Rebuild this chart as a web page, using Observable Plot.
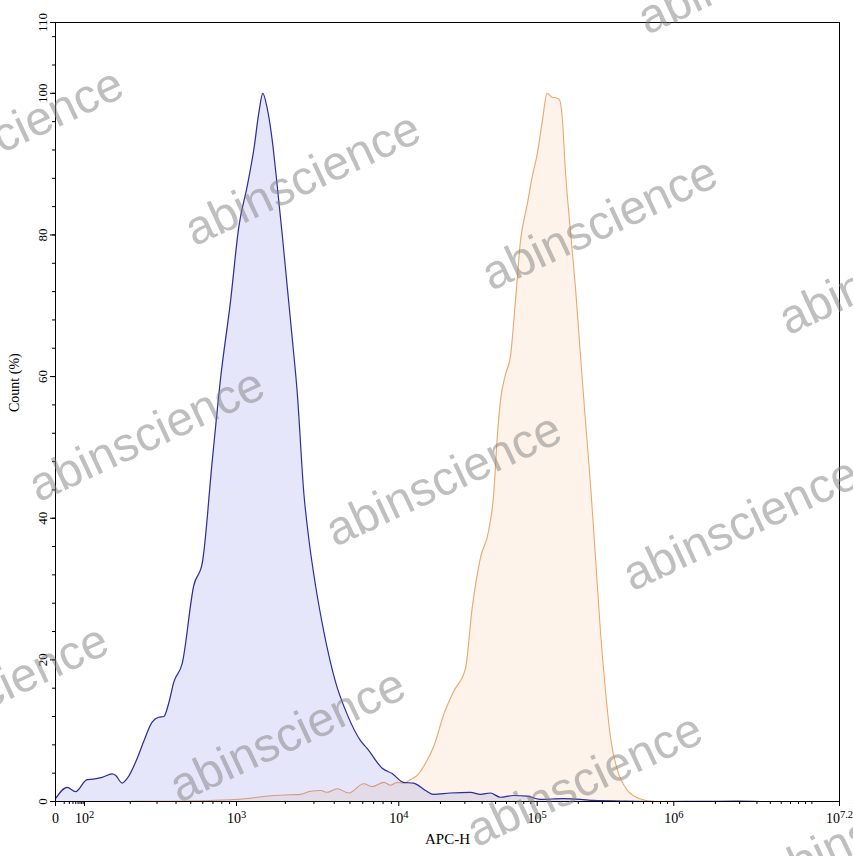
<!DOCTYPE html>
<html>
<head>
<meta charset="utf-8">
<script src="https://cdn.jsdelivr.net/npm/d3@7"></script>
<script src="https://cdn.jsdelivr.net/npm/@observablehq/plot@0.6"></script>
<style>
  html, body { margin: 0; padding: 0; background: #fff; overflow: hidden; }
  #chart { width: 853px; height: 856px; }
</style>
</head>
<body>
<div id="chart"></div>
<script>
// x is in display decades of APC-H (1 = the "0" position of the biexponential axis)
const xTicks = [1, 2, 3, 4, 5, 6, 7.2];
const xTickLabels = ["0", "10^2", "10^3", "10^4", "10^5", "10^6", "10^7.2"];
const yTicks = [0, 20, 40, 60, 80, 100, 110];

// Blue (control) histogram
const blueX = [1.000,1.403,1.690,2.018,2.059,2.116,2.182,2.204,2.248,2.281,2.347,2.388,2.445,2.487,2.522,2.553,2.588,2.643,2.719,2.775,2.840,2.895,2.961,3.014,3.066,3.107,3.138,3.162,3.189,3.220,3.251,3.282,3.313,3.343,3.374,3.415,3.446,3.487,3.538,3.610,3.682,3.764,3.805,3.898,3.959,4.034,4.106,4.193,4.251,4.373,4.518,4.590,4.662,4.734,4.828,4.928,5.024,5.193,5.317,5.412,5.610,5.903,6.193,6.459,6.628];
const blueY = [0.4,2.0,1.4,3.1,3.15,3.4,3.9,3.7,2.6,3.25,6.1,8.4,11.2,11.9,12.0,13.8,16.9,19.5,30.5,33.7,48.0,59.7,70.7,81.1,86.9,92.1,97.3,100,97.9,93.4,86.9,80.0,72.6,65.5,57.8,43.5,37.0,30.5,24.0,16.9,12.3,8.6,7.5,4.7,3.95,2.7,2.6,1.55,1.0,1.2,1.3,1.0,1.2,0.6,0.85,0.75,0.3,0.4,0.3,0.15,0.07,0,0.03,0.04,0];

// Orange (stained) histogram
const orangeX = [2.311,2.586,2.961,3.105,3.228,3.333,3.394,3.456,3.518,3.559,3.620,3.692,3.784,3.836,3.908,3.949,3.990,4.036,4.085,4.133,4.193,4.253,4.325,4.398,4.482,4.530,4.590,4.650,4.686,4.711,4.734,4.771,4.807,4.843,4.879,4.928,4.964,5.000,5.037,5.073,5.110,5.134,5.158,5.171,5.183,5.207,5.244,5.280,5.317,5.353,5.390,5.427,5.463,5.500,5.536,5.585,5.659,5.756,5.853,6.193];
const orangeY = [0.04,0.04,0.24,0.52,0.85,0.95,1.0,1.45,1.55,1.3,1.8,1.2,2.5,2.1,2.7,2.3,2.7,2.6,3.1,3.7,5.4,7.8,12.3,15.6,18.8,27.3,34.4,38.3,43.5,51.3,56.5,60.3,62.9,70.7,79.1,84.3,88.2,91.4,96.0,100,99.45,99.37,99.2,98.6,96.6,88.9,80.4,72.6,62.9,53.8,44.8,34.4,24.0,15.6,9.1,4.6,1.6,0.35,0.03,0];

const blue = blueX.map((d, i) => ({d, v: blueY[i]}));
const orange = orangeX.map((d, i) => ({d, v: orangeY[i]}));

// axis layout (biexponential display: uneven decade widths)
const xRange = [55, 84, 236, 398.3, 536.7, 673.3, 839];
const xMinor = [];
for (let dec = 1; dec <= 6; dec++) for (let k = 2; k <= 9; k++) xMinor.push(dec + Math.log10(k));
xMinor.push(7);
const yMinor = d3.range(0, 110, 4);

const serif = "'Liberation Serif', 'Times New Roman', serif";

const chart = Plot.plot({
  width: 853,
  height: 856,
  marginLeft: 55,
  marginRight: 14,
  marginTop: 22,
  marginBottom: 55,
  style: {fontFamily: serif, fontSize: "13px", background: "#fff", overflow: "hidden", color: "#000"},
  x: {type: "linear", domain: xTicks, range: xRange},
  y: {domain: [0, 110]},
  marks: [
    Plot.areaY(orange, {x: "d", y: "v", fill: "#fdf3ea", curve: "monotone-x"}),
    Plot.lineY(orange, {x: "d", y: "v", stroke: "#eaa86c", strokeWidth: 1.1, curve: "monotone-x"}),
    Plot.areaY(blue, {x: "d", y: "v", fill: "rgb(88,88,222)", fillOpacity: 0.15, curve: "monotone-x"}),
    Plot.lineY(blue, {x: "d", y: "v", stroke: "#2c2c9c", strokeWidth: 1.2, curve: "monotone-x"}),
    Plot.frame({stroke: "#000", strokeWidth: 1}),
    Plot.axisX(xMinor, {tickSize: 3, tickFormat: () => "", label: null, stroke: "#000"}),
    Plot.axisX(xTicks, {tickSize: 5, tickPadding: 7, fontSize: 14, label: null, stroke: "#000",
      tickFormat: d => xTickLabels[xTicks.indexOf(d)]}),
    Plot.axisY(yMinor, {tickSize: 3, tickFormat: () => "", label: null, stroke: "#000"}),
    Plot.axisY(yTicks, {tickSize: 5, tickPadding: 4, tickRotate: -90, fontSize: 13, label: null, stroke: "#000",
      tickFormat: d => String(d)}),
    Plot.text(["Count (%)"], {frameAnchor: "left", dx: -41, rotate: -90, text: d => d, fontSize: 14, fill: "#000"}),
    Plot.text(["APC-H"], {frameAnchor: "bottom", dy: 42, text: d => d, fontSize: 15, fill: "#000"})
  ]
});

document.getElementById("chart").appendChild(chart);

// superscript exponents on the x tick labels
chart.querySelectorAll("text").forEach(t => {
  const s = t.textContent;
  if (s.includes("^") && t.children.length === 0) {
    const [base, exp] = s.split("^");
    t.textContent = base;
    const ts = document.createElementNS("http://www.w3.org/2000/svg", "tspan");
    ts.setAttribute("font-size", "0.75em");
    ts.setAttribute("dy", "-0.55em");
    ts.textContent = exp;
    t.appendChild(ts);
  }
});

// watermark
const wm = d3.select(chart).append("g").attr("pointer-events", "none");
const base = [302, 178], u = [297, 44.5], v = [-156, 256];
for (let j = -1; j <= 3; j++) {
  for (let i = -2; i <= 3; i++) {
    const cx = base[0] + i * u[0] + j * v[0];
    const cy = base[1] + i * u[1] + j * v[1];
    if (cx < -120 || cx > 980 || cy < -50 || cy > 900) continue;
    wm.append("text")
      .attr("transform", `translate(${cx},${cy}) rotate(-25)`)
      .attr("text-anchor", "middle")
      .attr("dy", "0.35em")
      .attr("font-family", "'Liberation Sans', Arial, sans-serif")
      .attr("font-size", 48)
      .attr("fill", "#808080")
      .attr("fill-opacity", 0.5)
      .text("abinscience");
  }
}
</script>
</body>
</html>
